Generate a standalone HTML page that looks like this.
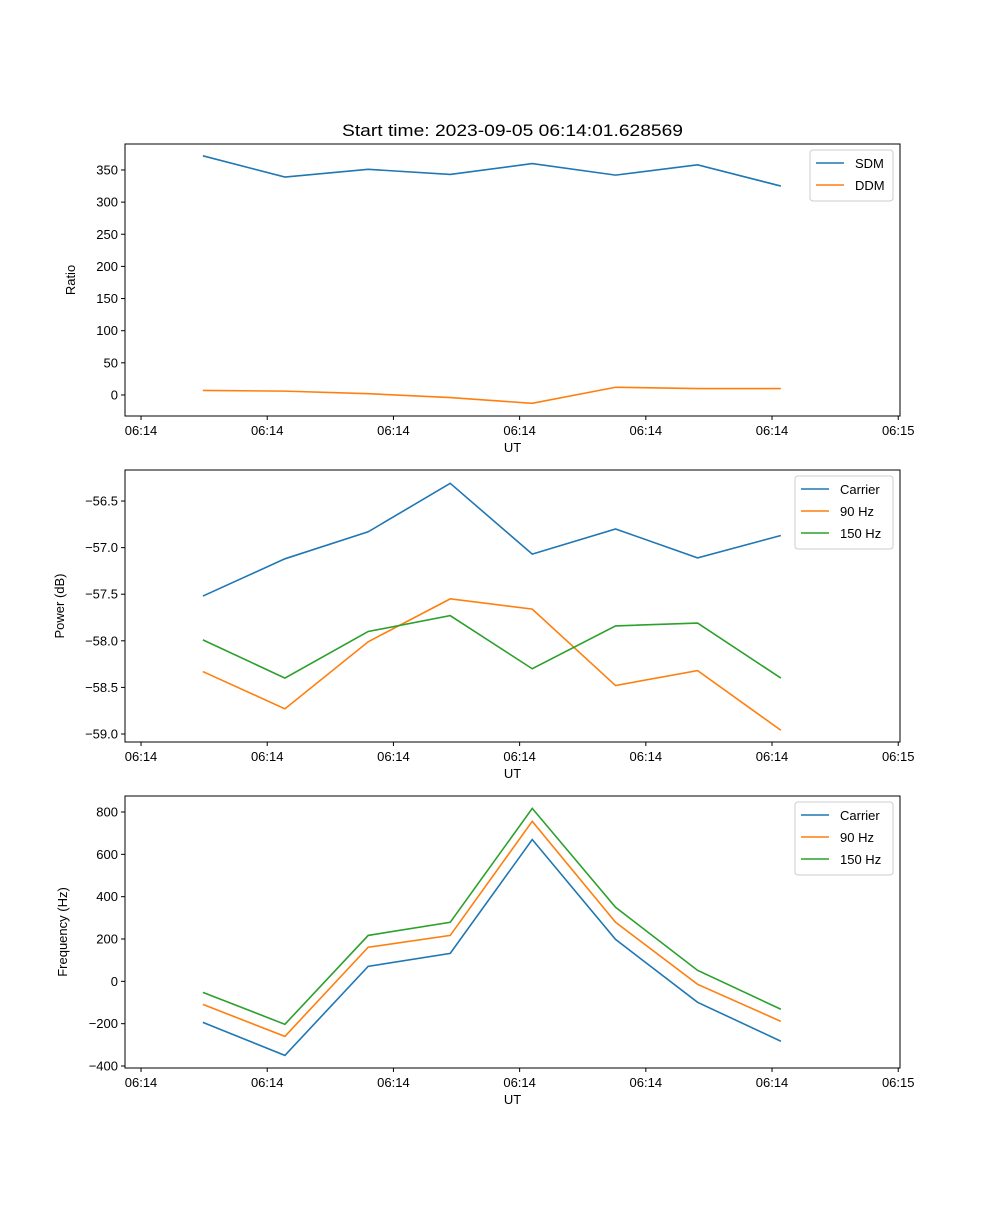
<!DOCTYPE html>
<html><head><meta charset="utf-8"><style>
body{margin:0;background:#fff}
svg{font-family:"Liberation Sans","DejaVu Sans",sans-serif}
</style></head><body>
<svg id="fig" width="1000" height="1200" xmlns="http://www.w3.org/2000/svg">
<rect width="1000" height="1200" fill="#fff"/>
<text x="342" y="136" font-size="16.5" textLength="341" lengthAdjust="spacingAndGlyphs">Start time: 2023-09-05 06:14:01.628569</text>
</svg>
<script>
const times=[4.9,11.4,18.0,24.5,31.0,37.6,44.1,50.7];
const xTicks=[0,10,20,30,40,50,60];
const xTickLabels=["06:14","06:14","06:14","06:14","06:14","06:14","06:15"];
const sdm=[372,339,351,343,360,342,358,325];
const ddm=[7,6,2,-4,-13,12,10,10];
const pCarrier=[-57.52,-57.12,-56.83,-56.31,-57.07,-56.80,-57.11,-56.87];
const p90=[-58.33,-58.73,-58.01,-57.55,-57.66,-58.48,-58.32,-58.96];
const p150=[-57.99,-58.40,-57.90,-57.73,-58.30,-57.84,-57.81,-58.40];
const fCarrier=[-194,-350,71,132,670,198,-99,-283];
const f90=[-109,-260,161,217,756,279,-14,-189];
const f150=[-52,-203,217,279,817,350,52,-132];
const ticks1=[0,50,100,150,200,250,300,350];
const ticks2=[-59.0,-58.5,-58.0,-57.5,-57.0,-56.5];
const ticks3=[-400,-200,0,200,400,600,800];

const NS="http://www.w3.org/2000/svg";
const svg=document.getElementById('fig');
const L=125,R=900,X0=-1.27,X1=60.14;
function xs(t){return L+(t-X0)/(X1-X0)*(R-L);}
function mk(tag,attrs,parent){const e=document.createElementNS(NS,tag);for(const k in attrs)e.setAttribute(k,attrs[k]);(parent||svg).appendChild(e);return e;}
const C=['#1f77b4','#ff7f0e','#2ca02c'];
function panel(id,top,bot,ymin,ymax,yt,fmt,ylabel,series,names,leg){
  const g=mk('g',{});
  
  
  const ys=v=>bot-(v-ymin)/(ymax-ymin)*(bot-top);
  series.forEach((s,i)=>{
    const p=mk('polyline',{points:s.map((v,j)=>xs(times[j])+','+ys(v)).join(' '),fill:'none',stroke:C[i],'stroke-width':1.6},g);
    
    
  });
  mk('rect',{x:L,y:top,width:R-L,height:bot-top,fill:'none',stroke:'#000','stroke-width':1},g);
  xTicks.forEach((t,i)=>{const x=xs(t);mk('line',{x1:x,x2:x,y1:bot,y2:bot+4,stroke:'#000'},g);
    const tx=mk('text',{x:x,y:bot+19,'font-size':13,'text-anchor':'middle'},g);tx.textContent=xTickLabels[i];
    
    });
  yt.forEach(v=>{const y=ys(v);mk('line',{x1:L-4,x2:L,y1:y,y2:y,stroke:'#000'},g);
    const tx=mk('text',{x:L-7,y:y+4.5,'font-size':13,'text-anchor':'end'},g);tx.textContent=fmt(v);
    
    });
  const xl=mk('text',{x:(L+R)/2,y:bot+36,'font-size':13,'text-anchor':'middle'},g);xl.textContent='UT';
  
  
  const yl=mk('text',{x:0,y:0,'font-size':13,'text-anchor':'middle',transform:`translate(${leg.yx},${(top+bot)/2}) rotate(-90)`},g);yl.textContent=ylabel;
  
  
  const lg=mk('g',{},g);
  
  
  mk('rect',{x:leg.x,y:top+6,width:R-7-leg.x,height:names.length*22+7,fill:'#fff',stroke:'#ccc',rx:3},lg);
  names.forEach((n,i)=>{const y=top+19+i*22;
    mk('line',{x1:leg.x+6,x2:leg.x+34,y1:y,y2:y,stroke:C[i],'stroke-width':1.6},lg);
    const t=mk('text',{x:leg.x+45,y:y+5,'font-size':13},lg);t.textContent=n;
    
    });
}
panel('ratio',144,416,-32.7,390.4,ticks1,v=>v,'Ratio',[sdm,ddm],['SDM','DDM'],{x:810,yx:75});
panel('power',470,742,-59.086,-56.167,ticks2,v=>'\u2212'+Math.abs(v).toFixed(1),'Power (dB)',[pCarrier,p90,p150],['Carrier','90 Hz','150 Hz'],{x:795,yx:64});
panel('frequency',796,1068,-409.4,875.6,ticks3,v=>v<0?'\u2212'+(-v):''+v,'Frequency (Hz)',[fCarrier,f90,f150],['Carrier','90 Hz','150 Hz'],{x:795,yx:67});
</script>
</body></html>
